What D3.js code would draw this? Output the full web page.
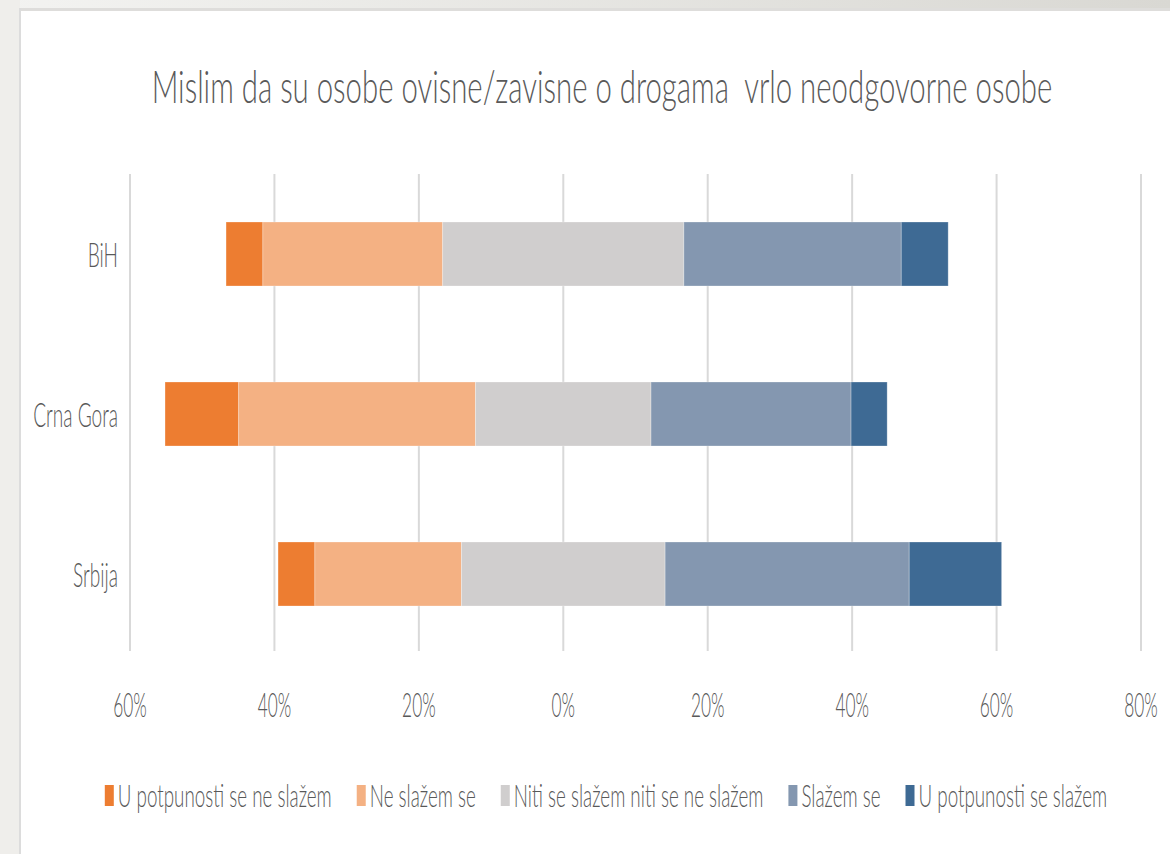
<!DOCTYPE html>
<html>
<head>
<meta charset="utf-8">
<script src="https://cdn.jsdelivr.net/npm/d3@7"></script>
<style>
  body { margin: 0; background: #ffffff; }
  svg { display: block; }
  text { font-family: Lato, "Open Sans", sans-serif; font-weight: 300; fill: #595959; white-space: pre; }
</style>
</head>
<body>
<div id="chart"></div>
<script>
// chart values (percent)
var title = "Mislim da su osobe ovisne/zavisne o drogama  vrlo neodgovorne osobe";
var categories = ["BiH", "Crna Gora", "Srbija"];
var series_names = ["U potpunosti se ne slažem", "Ne slažem se", "Niti se slažem niti se ne slažem", "Slažem se", "U potpunosti se slažem"];
var strongly_disagree = [5.1, 10.2, 5.1];
var disagree = [24.9, 32.8, 20.3];
var neutral = [33.4, 24.3, 28.2];
var agree = [30.1, 27.7, 33.8];
var strongly_agree = [6.5, 5.0, 12.8];
var x_ticks = [-60, -40, -20, 0, 20, 40, 60, 80];

var colors = ["#ed7d31", "#f4b183", "#d0cece", "#8497b0", "#3e6a94"];

var width = 1170, height = 854;

var svg = d3.select("#chart").append("svg")
    .attr("width", width)
    .attr("height", height);

// grey frame round the slide
var defs = svg.append("defs");
var grad = defs.append("linearGradient").attr("id", "topgrad");
grad.append("stop").attr("offset", "0%").attr("stop-color", "#f3f3f1");
grad.append("stop").attr("offset", "100%").attr("stop-color", "#d9d8d3");
svg.append("rect").attr("x", 0).attr("y", 0).attr("width", width).attr("height", 11).attr("fill", "url(#topgrad)");
svg.append("rect").attr("x", 0).attr("y", 0).attr("width", 20).attr("height", height).attr("fill", "#efeeeb");
svg.append("rect").attr("x", 19).attr("y", 8).attr("width", width).attr("height", 3).attr("fill", "#dedddb");
svg.append("rect").attr("x", 19).attr("y", 8).attr("width", 2).attr("height", height).attr("fill", "#dcdcdc");

var x = d3.scaleLinear().domain([-60, 80]).range([130, 1141]);
var y = d3.scaleBand().domain(categories).range([174, 654]).paddingInner(0.6).paddingOuter(0.3);

// vertical gridlines
svg.append("g").selectAll("line").data(x_ticks).enter().append("line")
    .attr("x1", function(d) { return x(d); })
    .attr("x2", function(d) { return x(d); })
    .attr("y1", 174)
    .attr("y2", 651)
    .attr("stroke", "#d9d9d9")
    .attr("stroke-width", 2);

// build the segments: the neutral one is split round 0
var rows = [];
categories.forEach(function(c, i) {
    var vals = [strongly_disagree[i], disagree[i], neutral[i], agree[i], strongly_agree[i]];
    var start = -(vals[0] + vals[1] + vals[2] / 2);
    vals.forEach(function(v, j) {
        rows.push({cat: c, series: j, x0: start, x1: start + v});
        start += v;
    });
});

svg.append("g").selectAll("rect").data(rows).enter().append("rect")
    .attr("x", function(d) { return x(d.x0); })
    .attr("y", function(d) { return y(d.cat); })
    .attr("width", function(d) { return x(d.x1) - x(d.x0); })
    .attr("height", y.bandwidth())
    .attr("fill", function(d) { return colors[d.series]; })
    .attr("stroke", "#ffffff")
    .attr("stroke-opacity", 0.35)
    .attr("stroke-width", 0.8);

// title, measured so the squeeze factor can be found
var title_text = svg.append("text")
    .attr("font-size", 46)
    .attr("text-anchor", "middle")
    .text(title);
var natural = title_text.node().getComputedTextLength();
var sx = 901 / natural;
title_text.attr("transform", "translate(602,103) scale(" + sx + ",1)");

// category labels
var sx_cat = sx * 0.88;
svg.append("g").selectAll("text").data(categories).enter().append("text")
    .attr("font-size", 34)
    .attr("text-anchor", "end")
    .attr("transform", function(d) { return "translate(118," + (y(d) + y.bandwidth() / 2 + 13) + ") scale(" + sx_cat + ",1)"; })
    .text(function(d) { return d; });

// x axis labels
var sx_tick = sx * 0.82;
svg.append("g").selectAll("text").data(x_ticks).enter().append("text")
    .attr("font-size", 33)
    .attr("text-anchor", "middle")
    .attr("transform", function(d) { return "translate(" + x(d) + ",717) scale(" + sx_tick + ",1)"; })
    .text(function(d) { return Math.abs(d) + "%"; });

// legend, laid out one entry after another and centred
var sx_leg = sx * 0.95;
var legend = svg.append("g");
var pos = 0;
var items = [];
series_names.forEach(function(name, i) {
    var g = legend.append("g");
    g.append("rect")
        .attr("x", 0).attr("y", 785)
        .attr("width", 9).attr("height", 21)
        .attr("fill", colors[i]);
    var t = g.append("text")
        .attr("font-size", 31)
        .attr("transform", "translate(13,807) scale(" + sx_leg + ",1)")
        .text(name);
    var w = 13 + t.node().getComputedTextLength() * sx_leg;
    items.push({g: g, at: pos});
    pos += w + 25;
});
var total = pos - 25;
var left = 606 - total / 2;
items.forEach(function(it) {
    it.g.attr("transform", "translate(" + (left + it.at) + ",0)");
});
</script>
</body>
</html>
